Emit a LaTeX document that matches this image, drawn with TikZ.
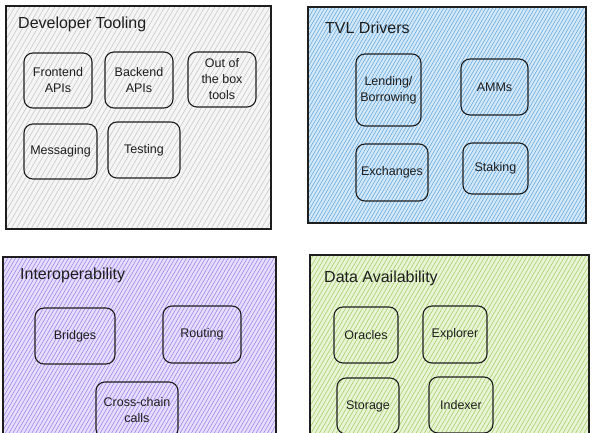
\documentclass[tikz,border=0pt]{standalone}
\usepackage{fontspec}
\setmainfont{Liberation Sans}
\definecolor{inkc}{HTML}{1E1E1E}
\definecolor{pabg}{HTML}{F5F5F5}
\definecolor{pah}{HTML}{C6C6C6}
\definecolor{pbbg}{HTML}{D4E8F8}
\definecolor{pbh}{HTML}{62A9E0}
\definecolor{pcbg}{HTML}{E6DEFC}
\definecolor{pch}{HTML}{9A86EA}
\definecolor{pdbg}{HTML}{E9F4D6}
\definecolor{pdh}{HTML}{A2D063}
\newcommand\hpanel[7]{%
  \node[panelbg, fill=#6bg, minimum width=#4pt, minimum height=#5pt] (#1) at (#2,#3) {};
  \begin{scope}
    \clip (#1.north west) rectangle (#1.south east);
    \foreach \k in {0,...,130} \draw[hatch, draw=#6h] ({#2-150+\k*#7},{#3+#5}) -- ++(145,-250);
  \end{scope}
  \draw[border] (#1.north west) rectangle (#1.south east);
}
\begin{document}
\begin{tikzpicture}[x=1pt,y=-1pt,
  panelbg/.style={draw=none, inner sep=0pt, outer sep=0pt, anchor=north west},
  border/.style={draw=inkc, line width=1.1pt},
  hatch/.style={line width=0.55pt},
  item/.style={draw=inkc, line width=1.1pt, rounded corners=9pt, align=center,
    font=\fontsize{12.5}{16}\selectfont, text=inkc, inner sep=0pt},
  ttl/.style={anchor=west, font=\fontsize{16}{19}\selectfont, text=inkc, inner sep=0pt}]
\useasboundingbox (0,0) rectangle (597,432);
\clip (0,0) rectangle (597,432);
\fill[white] (0,0) rectangle (597,432);

% panels
\hpanel{pa}{6}{6}{265}{223}{pa}{5}
\hpanel{pb}{308}{7}{278}{216}{pb}{3.5}
\hpanel{pc}{3}{257}{273}{183}{pc}{3.8}
\hpanel{pd}{310}{255}{279}{185}{pd}{4.2}

% titles
\node[ttl] (ta) at (18,24) {Developer Tooling};
\node[ttl] (tb) at (325,28) {TVL Drivers};
\node[ttl] (tc) at (20,275) {Interoperability};
\node[ttl] (td) at (324,278) {Data Availability};

% Developer Tooling
\node[item, minimum width=68pt, minimum height=55pt] (fe) at (58,80.5) {Frontend\\APIs};
\node[item, minimum width=68pt, minimum height=56pt] (be) at (139,80) {Backend\\APIs};
\node[item, minimum width=68pt, minimum height=55pt] (oob) at (222,79.5) {Out of\\the box\\tools};
\node[item, minimum width=73pt, minimum height=55pt] (msg) at (60.5,151.5) {Messaging};
\node[item, minimum width=72pt, minimum height=56pt] (tst) at (144,150) {Testing};

% TVL Drivers
\node[item, minimum width=65pt, minimum height=72pt] (lend) at (388.5,90) {Lending/\\Borrowing};
\node[item, minimum width=67pt, minimum height=56pt] (amm) at (494.5,87) {AMMs};
\node[item, minimum width=72pt, minimum height=57pt] (exch) at (392,172.5) {Exchanges};
\node[item, minimum width=65pt, minimum height=51pt] (stk) at (495.5,168.5) {Staking};

% Interoperability
\node[item, minimum width=80pt, minimum height=56pt] (brg) at (75,336) {Bridges};
\node[item, minimum width=78pt, minimum height=57pt] (rte) at (202,334.5) {Routing};
\node[item, minimum width=82pt, minimum height=56pt] (ccc) at (137,410) {Cross-chain\\calls};

% Data Availability
\node[item, minimum width=64pt, minimum height=56pt] (orc) at (366,335) {Oracles};
\node[item, minimum width=64pt, minimum height=57pt] (exp) at (455,334.5) {Explorer};
\node[item, minimum width=62pt, minimum height=56pt] (sto) at (368,406) {Storage};
\node[item, minimum width=64pt, minimum height=56pt] (idx) at (461,405) {Indexer};
\end{tikzpicture}
\end{document}
